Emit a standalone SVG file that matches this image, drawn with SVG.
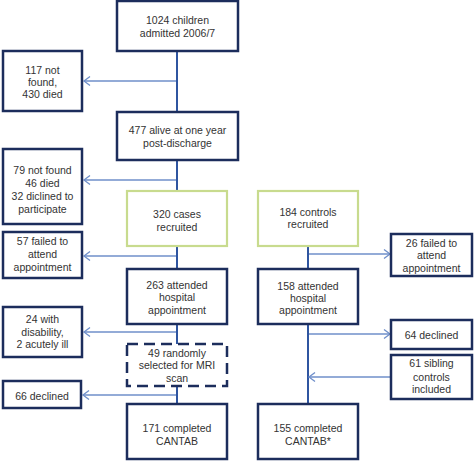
<svg xmlns="http://www.w3.org/2000/svg" width="474" height="461" viewBox="0 0 474 461">
<defs>
<style>
.box{fill:#fff;stroke:#1c2d5c;stroke-width:2.5}
.green{fill:#fff;stroke:#c8db8e;stroke-width:2.2}
.dash{fill:#fff;stroke:#1c2d5c;stroke-width:2.5;stroke-dasharray:11 6}
.main{stroke:#2f55a0;stroke-width:2;fill:none}
.arr{stroke:#6f8fca;stroke-width:1.3;fill:none;marker-end:url(#ah)}
text{font-family:"Liberation Sans",Arial,sans-serif;font-size:10.5px;fill:#333;text-anchor:middle}
</style>
<marker id="ah" markerUnits="userSpaceOnUse" markerWidth="12" markerHeight="12" refX="9" refY="6" orient="auto">
<path d="M3,1.5 L9,6 L3,10.5" fill="none" stroke="#6f8fca" stroke-width="1.3"/>
</marker>
</defs>
<g id="connectors">
<line class="main" x1="177" y1="51" x2="177" y2="112"/>
<line class="main" x1="177" y1="160" x2="177" y2="191"/>
<line class="main" x1="177" y1="246" x2="177" y2="269"/>
<line class="main" x1="177" y1="324" x2="177" y2="344"/>
<line class="main" x1="177" y1="386" x2="177" y2="404"/>
<line class="main" x1="308" y1="246" x2="308" y2="269"/>
<line class="main" x1="308" y1="324" x2="308" y2="404"/>
<line class="arr" x1="176" y1="81" x2="84" y2="81"/>
<line class="arr" x1="176" y1="180" x2="84" y2="180"/>
<line class="arr" x1="176" y1="256" x2="84" y2="256"/>
<line class="arr" x1="176" y1="332" x2="84" y2="332"/>
<line class="arr" x1="176" y1="395" x2="83" y2="395"/>
<line class="arr" x1="309" y1="254" x2="390" y2="254"/>
<line class="arr" x1="309" y1="334" x2="390" y2="334"/>
<line class="arr" x1="390" y1="377" x2="309" y2="377"/>
</g>
<g id="n1"><rect class="box" x="117" y="1" width="121" height="50"/><text x="177.5" y="24">1024 children</text><text x="177.5" y="37">admitted 2006/7</text></g>
<g id="n2"><rect class="box" x="3" y="51" width="79" height="60"/><text x="42.5" y="74">117 not</text><text x="42.5" y="86">found,</text><text x="42.5" y="98">430 died</text></g>
<g id="n3"><rect class="box" x="117" y="112" width="121" height="48"/><text x="177.5" y="134">477 alive at one year</text><text x="177.5" y="147">post-discharge</text></g>
<g id="n4"><rect class="box" x="3" y="149" width="79" height="75"/><text x="42.5" y="174">79 not found</text><text x="42.5" y="187">46 died</text><text x="42.5" y="200">32 diclined to</text><text x="42.5" y="213">participate</text></g>
<g id="n5"><rect class="green" x="127" y="191" width="100" height="55"/><text x="177" y="218">320 cases</text><text x="177" y="231">recruited</text></g>
<g id="n6"><rect class="box" x="3" y="232" width="79" height="46"/><text x="42.5" y="245">57 failed to</text><text x="42.5" y="258">attend</text><text x="42.5" y="271">appointment</text></g>
<g id="n7"><rect class="box" x="127" y="269" width="100" height="55"/><text x="177" y="289">263 attended</text><text x="177" y="301">hospital</text><text x="177" y="314">appointment</text></g>
<g id="n8"><rect class="box" x="3" y="307" width="79" height="50"/><text x="42.5" y="323">24 with</text><text x="42.5" y="336">disability,</text><text x="42.5" y="348">2 acutely ill</text></g>
<g id="n9"><rect class="dash" x="127" y="344" width="100" height="42"/><text x="177" y="357">49 randomly</text><text x="177" y="369">selected for MRI</text><text x="177" y="382">scan</text></g>
<g id="n10"><rect class="box" x="3" y="381" width="78" height="27"/><text x="42" y="400">66 declined</text></g>
<g id="n11"><rect class="box" x="127" y="404" width="100" height="55"/><text x="177" y="432">171 completed</text><text x="177" y="445">CANTAB</text></g>
<g id="n12"><rect class="green" x="258" y="191" width="100" height="55"/><text x="308" y="216">184 controls</text><text x="308" y="228">recruited</text></g>
<g id="n13"><rect class="box" x="391" y="234" width="81" height="42"/><text x="431.5" y="247">26 failed to</text><text x="431.5" y="259">attend</text><text x="431.5" y="272">appointment</text></g>
<g id="n14"><rect class="box" x="258" y="269" width="100" height="55"/><text x="308" y="290">158 attended</text><text x="308" y="302">hospital</text><text x="308" y="314">appointment</text></g>
<g id="n15"><rect class="box" x="391" y="320" width="81" height="29"/><text x="431.5" y="339">64 declined</text></g>
<g id="n16"><rect class="box" x="391" y="355" width="81" height="44"/><text x="431.5" y="367">61 sibling</text><text x="431.5" y="381">controls</text><text x="431.5" y="393">included</text></g>
<g id="n17"><rect class="box" x="258" y="404" width="100" height="55"/><text x="308" y="432">155 completed</text><text x="308" y="445">CANTAB*</text></g>
</svg>
